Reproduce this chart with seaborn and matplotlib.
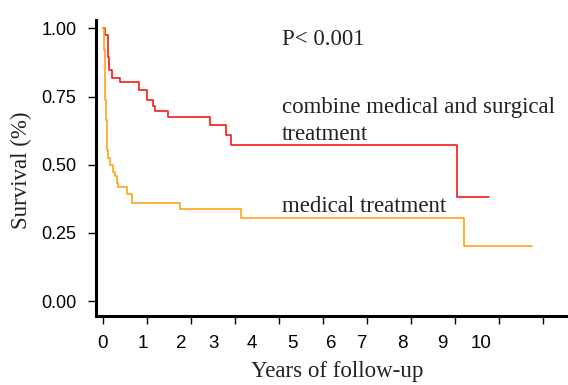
import numpy as np
import pandas as pd
import matplotlib
matplotlib.use("Agg")
import matplotlib.pyplot as plt
from matplotlib.ticker import FixedLocator, FixedFormatter
import seaborn as sns

# ---- data ----
combine_time = [0.0, 0.045, 0.107, 0.143, 0.198, 0.386, 0.825, 0.993, 1.13, 1.19,
                1.48, 2.43, 2.79, 2.91, 8.04, 8.78]
combine_surv = [1.000, 0.976, 0.896, 0.847, 0.817, 0.805, 0.774, 0.738, 0.716, 0.698,
                0.676, 0.646, 0.609, 0.571, 0.381, 0.381]

medical_time = [0.0, 0.023, 0.045, 0.057, 0.084, 0.114, 0.159, 0.227, 0.273, 0.311,
                0.334, 0.539, 0.652, 1.74, 3.14, 8.21, 9.76]
medical_surv = [1.000, 0.921, 0.738, 0.664, 0.554, 0.525, 0.499, 0.473, 0.459, 0.433,
                0.417, 0.393, 0.361, 0.338, 0.303, 0.203, 0.203]

group_names = ["combine medical and surgical treatment", "medical treatment"]
x_tick_values = list(range(0, 11))
x_tick_labels = ["0", "1", "2", "3", "4", "5", "6", "7", "8", "9", "10"]
y_tick_values = [0.0, 0.25, 0.5, 0.75, 1.0]
y_tick_labels = ["0.00", "0.25", "0.50", "0.75", "1.00"]
p_text = "P< 0.001"

# layout: where the x tick labels sit (they are offset from tick marks in the reference)
x_label_pos = [0.0, 0.90, 1.77, 2.51, 3.39, 4.30, 5.18, 5.90, 6.81, 7.72, 8.59]

df = pd.concat([
    pd.DataFrame({"time": combine_time, "surv": combine_surv, "group": group_names[0]}),
    pd.DataFrame({"time": medical_time, "surv": medical_surv, "group": group_names[1]}),
], ignore_index=True)

sns.set_style("ticks")
plt.rcParams["font.family"] = ["Liberation Sans", "DejaVu Sans"]

fig = plt.figure(figsize=(5.68, 3.85), dpi=100)
ax = fig.add_axes([96 / 568, (385 - 316) / 385, 472 / 568, 296 / 385])

palette = {group_names[0]: "#f71a1a", group_names[1]: "#ffa319"}
sns.lineplot(data=df, x="time", y="surv", hue="group", palette=palette,
             estimator=None, sort=False, drawstyle="steps-post",
             linewidth=1.2, legend=False, ax=ax)

ax.set_xlim(-0.159, 10.568)
ax.set_ylim(-0.055, 1.031)

for s in ["top", "right"]:
    ax.spines[s].set_visible(False)
for s in ["left", "bottom"]:
    ax.spines[s].set_linewidth(2.2)
    ax.spines[s].set_color("black")

# y ticks
ax.set_yticks(y_tick_values)
ax.set_yticklabels(y_tick_labels)
ax.tick_params(axis="y", which="major", length=6, width=1.0, pad=8,
               labelsize=13, colors="black")

# x: tick marks at integer positions, labels at their own positions
ax.xaxis.remove_overlapping_locs = False
ax.xaxis.set_major_locator(FixedLocator(x_tick_values))
ax.xaxis.set_major_formatter(FixedFormatter([""] * len(x_tick_values)))
ax.xaxis.set_minor_locator(FixedLocator(x_label_pos))
ax.xaxis.set_minor_formatter(FixedFormatter(x_tick_labels))
ax.tick_params(axis="x", which="major", length=6, width=1.0, colors="black")
ax.tick_params(axis="x", which="minor", length=0, pad=14, labelsize=13.5,
               labelcolor="black")

serif = ["Liberation Serif", "DejaVu Serif"]
tc = "#222222"
fs = 16.5
ax.set_xlabel("Years of follow-up", family=serif, fontsize=fs, color=tc)
ax.xaxis.set_label_coords(0.51, -0.152)
ax.set_ylabel("Survival (%)", family=serif, fontsize=fs, color=tc)
ax.yaxis.set_label_coords(-0.136, 0.493)

ax.text(4.06, 0.94, p_text, family=serif, fontsize=fs, color=tc, va="baseline")
ax.text(4.06, 0.689, "combine medical and surgical", family=serif, fontsize=fs,
        color=tc, va="baseline")
ax.text(4.06, 0.591, "treatment", family=serif, fontsize=fs, color=tc, va="baseline")
ax.text(4.06, 0.328, "medical treatment", family=serif, fontsize=fs, color=tc,
        va="baseline")

fig.savefig("out.png", dpi=100)
